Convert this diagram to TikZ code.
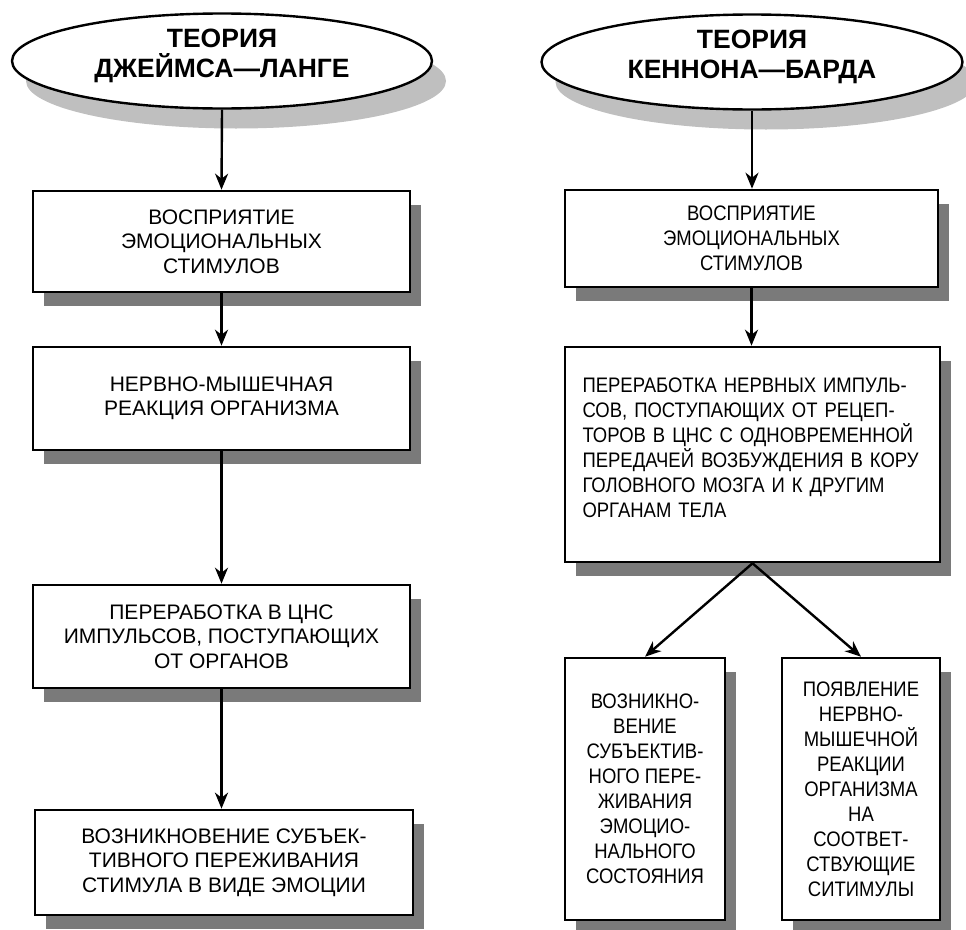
\documentclass[tikz,border=0pt]{standalone}
\usepackage{fontspec}
\setmainfont{Liberation Sans}
\newfontfamily\narrowfont[FakeStretch=0.88]{Liberation Sans}
\usetikzlibrary{shapes.geometric,shadows,arrows.meta}
\begin{document}
\begin{tikzpicture}[x=1pt,y=-1pt,
  boxshadow/.style={drop shadow={shadow xshift=11pt,shadow yshift=-14pt,fill=black!52,opacity=1}},
  ellshadow/.style={drop shadow={shadow xshift=14pt,shadow yshift=-20pt,fill=black!25,opacity=1}},
  stepbox/.style={draw,line width=2.6pt,fill=white,inner sep=0pt,align=center,
    font=\fontsize{21}{24.5}\selectfont,boxshadow},
  rbox/.style={stepbox,font=\narrowfont\fontsize{21}{25}\selectfont},
  title/.style={ellipse,draw,line width=2.4pt,fill=white,inner sep=0pt,ellshadow},
  titletext/.style={inner sep=0pt,align=center,font=\bfseries\fontsize{26.5}{30}\selectfont},
  plain/.style={inner sep=0pt,align=left,font=\narrowfont\fontsize{21}{25}\selectfont},
  conn/.style={line width=2.4pt,-{Stealth[length=16pt,width=13pt,inset=5pt]}},
  thickconn/.style={conn,line width=3.6pt}]
\useasboundingbox (0,0) rectangle (966,929);

% left column
\node[title,minimum width=420pt,minimum height=95pt] (e1) at (222,61) {};
\node[titletext] (e1t) at ([yshift=5pt]e1.center) {ТЕОРИЯ\\ДЖЕЙМСА—ЛАНГЕ};
\node[stepbox,minimum width=377pt,minimum height=101pt] (b1) at (221.5,241.5)
  {ВОСПРИЯТИЕ\\ЭМОЦИОНАЛЬНЫХ\\СТИМУЛОВ};
\node[stepbox,minimum width=377pt,minimum height=103pt] (b2) at (221.5,398.5)
  {НЕРВНО-МЫШЕЧНАЯ\\РЕАКЦИЯ ОРГАНИЗМА};
\node[stepbox,minimum width=377pt,minimum height=103pt] (b3) at (221.5,636.5)
  {ПЕРЕРАБОТКА В ЦНС\\ИМПУЛЬСОВ, ПОСТУПАЮЩИХ\\ОТ ОРГАНОВ};
\node[stepbox,minimum width=378pt,minimum height=105pt] (b4) at (224,862.5)
  {ВОЗНИКНОВЕНИЕ СУБЪЕК-\\ТИВНОГО ПЕРЕЖИВАНИЯ\\СТИМУЛА В ВИДЕ ЭМОЦИИ};

% right column
\node[title,minimum width=421pt,minimum height=95pt] (e2) at (752,62) {};
\node[titletext] (e2t) at ([yshift=5pt]e2.center) {ТЕОРИЯ\\КЕННОНА—БАРДА};
\node[rbox,minimum width=373pt,minimum height=97pt] (r1) at (751.5,238.5)
  {ВОСПРИЯТИЕ\\ЭМОЦИОНАЛЬНЫХ\\СТИМУЛОВ};
\node[rbox,minimum width=375pt,minimum height=215pt] (r2) at (752.5,454.5) {};
\node[plain,text width=340pt] (r2t) at ([yshift=7pt]r2.center)
  {\makebox[340pt][s]{ПЕРЕРАБОТКА НЕРВНЫХ ИМПУЛЬ-}\\
   \makebox[340pt][s]{СОВ, ПОСТУПАЮЩИХ ОТ РЕЦЕП-}\\
   \makebox[340pt][s]{ТОРОВ В ЦНС С ОДНОВРЕМЕННОЙ}\\
   \makebox[340pt][s]{ПЕРЕДАЧЕЙ ВОЗБУЖДЕНИЯ В КОРУ}\\
   \makebox[340pt][s]{ГОЛОВНОГО МОЗГА И К ДРУГИМ}\\
   ОРГАНАМ ТЕЛА};
\node[rbox,minimum width=160pt,minimum height=262pt] (rl) at (645,789)
  {ВОЗНИКНО-\\ВЕНИЕ\\СУБЪЕКТИВ-\\НОГО ПЕРЕ-\\ЖИВАНИЯ\\ЭМОЦИО-\\НАЛЬНОГО\\СОСТОЯНИЯ};
\node[rbox,minimum width=158pt,minimum height=262pt] (rr) at (861,789)
  {ПОЯВЛЕНИЕ\\НЕРВНО-\\МЫШЕЧНОЙ\\РЕАКЦИИ\\ОРГАНИЗМА\\НА\\СООТВЕТ-\\СТВУЮЩИЕ\\СИТИМУЛЫ};

% connectors
\draw[conn] (e1.south) -- (b1.north);
\draw[conn] (b1.south) -- (b2.north);
\draw[conn] (b2.south) -- (b3.north);
\draw[thickconn] (b3.south) -- (b3.south |- b4.north);
\draw[conn] (e2.south) -- (e2.south |- r1.north);
\draw[conn] (r1.south) -- (r1.south |- r2.north);
\draw[conn] (r2.south) -- (rl.north);
\draw[conn] (r2.south) -- (rr.north);
\end{tikzpicture}
\end{document}
